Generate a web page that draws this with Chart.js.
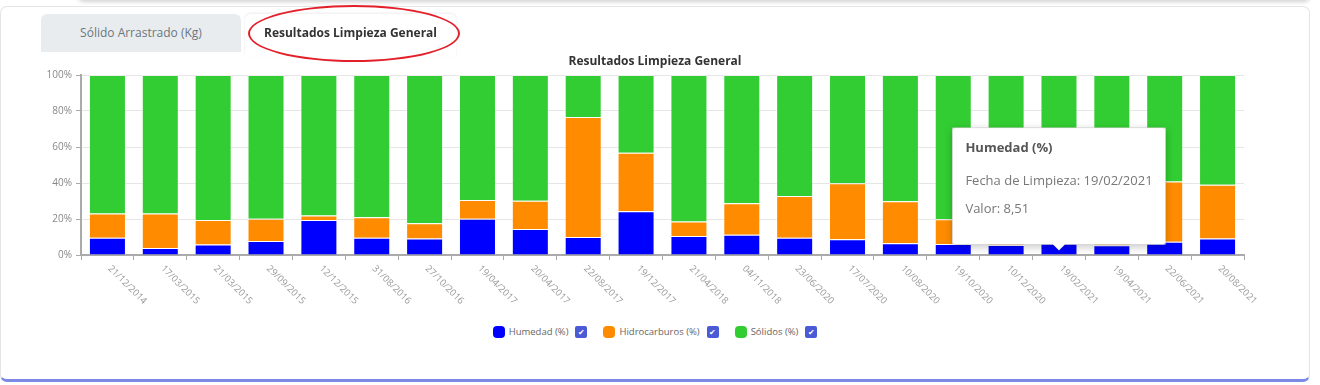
<html>
<head>
    <title>Resultados Limpieza General</title>
    <script src="https://cdn.jsdelivr.net/npm/chart.js"></script>
    <style>
        body {
            margin: 0;
            width: 1320px;
            height: 385px;
            background: #fff;
            font-family: 'Open Sans', sans-serif;
            overflow: hidden;
            position: relative;
        }
        .top-card {
            position: absolute;
            left: 78px;
            width: 1232px;
            top: -30px;
            height: 30px;
            background: #fff;
            border-radius: 6px;
            box-shadow: 0 2px 4px rgba(0, 0, 0, 0.18);
        }
        .card {
            position: absolute;
            left: 0;
            top: 6px;
            width: 1308px;
            height: 372px;
            background: #fff;
            border: 1px solid #e4e4e4;
            border-bottom: 3px solid #7c8ae6;
            border-radius: 7px;
            z-index: 0;
        }
        .tab {
            position: absolute;
            top: 14px;
            height: 38px;
            line-height: 38px;
            text-align: center;
            font-size: 12px;
            border-radius: 6px 6px 0 0;
            z-index: 2;
        }
        .tab.off {
            left: 41px;
            width: 200px;
            background: #e9ecee;
            color: #6b7780;
        }
        .tab.on {
            left: 245px;
            width: 211px;
            height: 43px;
            background: #fff;
            color: #333;
            font-weight: 700;
            box-shadow: 0 -1px 3px rgba(0, 0, 0, 0.08);
        }
        .circle {
            position: absolute;
            left: 248px;
            top: 5px;
            width: 208px;
            height: 53px;
            border: 2px solid #e3202a;
            border-radius: 50%;
            z-index: 3;
        }
        .chart-title {
            position: absolute;
            left: 455px;
            width: 400px;
            top: 52px;
            text-align: center;
            font-size: 12px;
            font-weight: 700;
            color: #333;
            z-index: 2;
        }
        .chart-box {
            position: absolute;
            left: 0;
            top: 50px;
            width: 1310px;
            height: 270px;
            z-index: 1;
        }
        #legend {
            position: absolute;
            left: 0;
            width: 1310px;
            top: 325px;
            display: flex;
            justify-content: center;
            font-size: 9.5px;
            color: #666;
            z-index: 1;
        }
        .item {
            display: flex;
            align-items: center;
            margin: 0 8px;
        }
        .swatch {
            width: 12px;
            height: 12px;
            border-radius: 4px;
            margin-right: 4px;
        }
        .check {
            width: 12px;
            height: 12px;
            border-radius: 2px;
            background: #4b5bd6;
            color: #fff;
            font-size: 8px;
            line-height: 12px;
            text-align: center;
            margin-left: 7px;
        }
    </style>
</head>

<body>
    <div class="top-card"></div>
    <div class="card"></div>
    <div class="tab off">Sólido Arrastrado (Kg)</div>
    <div class="tab on">Resultados Limpieza General</div>
    <div class="circle"></div>
    <div class="chart-title">Resultados Limpieza General</div>

    <div class="chart-box">
        <canvas id="barChart" width="1310" height="270"></canvas>
    </div>
    <div id="legend"></div>

    <script>
        var fechas = ["21/12/2014", "17/03/2015", "21/03/2015", "29/09/2015", "12/12/2015", "31/08/2016",
            "27/10/2016", "19/04/2017", "20/04/2017", "22/08/2017", "19/12/2017", "21/04/2018",
            "04/11/2018", "23/06/2020", "17/07/2020", "10/08/2020", "19/10/2020", "10/12/2020",
            "19/02/2021", "19/04/2021", "22/06/2021", "20/08/2021"];
        var humedad = [9.6, 3.9, 5.8, 7.8, 19.5, 9.6, 9.1, 20.2, 14.5, 10.0, 24.3, 10.6,
            11.3, 9.6, 8.7, 6.5, 6.1, 5.6, 8.51, 5.4, 7.4, 9.1];
        var hidrocarburos = [13.4, 19.1, 13.7, 12.4, 2.4, 11.4, 8.5, 10.4, 15.6, 66.6, 32.5, 8.0,
            17.5, 23.2, 31.2, 23.4, 13.8, 14.0, 12.0, 15.0, 33.4, 29.9];
        var solidos = [77.0, 77.0, 80.5, 79.8, 78.1, 79.0, 82.4, 69.4, 69.9, 23.4, 43.2, 81.4,
            71.2, 67.2, 60.1, 70.1, 80.1, 80.4, 79.49, 79.6, 59.2, 61.0];
        var yTicks = [0, 20, 40, 60, 80, 100];

        var series = [
            { label: "Humedad (%)", data: humedad, color: "#0000ff" },
            { label: "Hidrocarburos (%)", data: hidrocarburos, color: "#ff8c00" },
            { label: "Sólidos (%)", data: solidos, color: "#32cd32" }
        ];

        // etiquetas de fecha inclinadas hacia abajo a la derecha
        var dateLabels = {
            id: "dateLabels",
            afterDatasetsDraw: function (chart) {
                var ctx = chart.ctx;
                var xs = chart.scales.x;
                ctx.save();
                ctx.font = "9.5px 'Open Sans'";
                ctx.fillStyle = "#9a9a9a";
                ctx.textAlign = "left";
                ctx.textBaseline = "middle";
                xs.ticks.forEach(function (t, i) {
                    ctx.save();
                    ctx.translate(xs.getPixelForTick(i) + 2, xs.top + 12);
                    ctx.rotate(Math.PI / 4);
                    ctx.fillText(fechas[i], 0, 0);
                    ctx.restore();
                });
                ctx.restore();
            },
            // sombra suave bajo el tooltip
            beforeTooltipDraw: function (chart, args) {
                var tt = args.tooltip;
                if (!tt.opacity) return;
                var ctx = chart.ctx;
                ctx.save();
                ctx.shadowColor = "rgba(0,0,0,0.22)";
                ctx.shadowBlur = 8;
                ctx.shadowOffsetY = 2;
                ctx.fillStyle = "#fff";
                ctx.fillRect(tt.x, tt.y, tt.width, tt.height);
                ctx.restore();
            }
        };

        Chart.Tooltip.positioners.baseline = function (items) {
            if (!items.length) return false;
            var el = items[0].element;
            return { x: el.x, y: el.base - 4 };
        };

        var chart = new Chart(document.getElementById("barChart"), {
            type: "bar",
            data: {
                labels: fechas,
                datasets: series.map(function (s) {
                    return {
                        label: s.label,
                        data: s.data,
                        backgroundColor: s.color,
                        borderColor: "rgba(255,255,255,0.35)",
                        borderWidth: 1,
                        barPercentage: 0.7,
                        categoryPercentage: 1
                    };
                })
            },
            options: {
                responsive: false,
                animation: false,
                layout: { padding: { left: 0, right: 66, top: 25, bottom: 0 } },
                plugins: {
                    legend: { display: false },
                    title: { display: false },
                    tooltip: {
                        position: "baseline",
                        yAlign: "bottom",
                        xAlign: "center",
                        backgroundColor: "#fff",
                        borderColor: "rgba(0,0,0,0.12)",
                        borderWidth: 1,
                        cornerRadius: 3,
                        caretSize: 6,
                        caretPadding: 0,
                        displayColors: false,
                        titleColor: "#555",
                        titleFont: { family: "'Open Sans'", size: 13, weight: "bold" },
                        titleMarginBottom: 17,
                        bodyColor: "#777",
                        bodyFont: { family: "'Open Sans'", size: 13 },
                        bodySpacing: 13,
                        padding: { top: 13, bottom: 27, left: 13, right: 13 },
                        callbacks: {
                            title: function (items) { return items[0].dataset.label; },
                            label: function (item) {
                                return ["Fecha de Limpieza: " + item.label,
                                    "Valor: " + String(item.raw).replace(".", ",")];
                            }
                        }
                    }
                },
                scales: {
                    x: {
                        stacked: true,
                        afterFit: function (s) { s.height = 65; },
                        grid: { display: true, drawOnChartArea: false, tickLength: 5, color: "#aaa" },
                        border: { color: "#aaa", width: 2 },
                        ticks: { display: false }
                    },
                    y: {
                        stacked: true,
                        min: 0,
                        max: 100,
                        afterFit: function (s) { s.width = 81; },
                        afterBuildTicks: function (s) {
                            s.ticks = yTicks.map(function (v) { return { value: v }; });
                        },
                        grid: { color: "#e6e6e6", tickLength: 5, tickColor: "#aaa" },
                        border: { color: "#aaa", width: 2 },
                        ticks: {
                            color: "#888",
                            font: { family: "'Open Sans'", size: 10 },
                            padding: 4,
                            callback: function (v) { return v + "%"; }
                        }
                    }
                }
            },
            plugins: [dateLabels]
        });

        chart.tooltip.setActiveElements([{ datasetIndex: 0, index: fechas.indexOf("19/02/2021") }], { x: 0, y: 0 });
        chart.update();

        var legend = document.getElementById("legend");
        series.forEach(function (s) {
            var item = document.createElement("div");
            item.className = "item";
            item.innerHTML = '<span class="swatch" style="background:' + s.color + '"></span>' +
                '<span>' + s.label + '</span><span class="check">&#10004;</span>';
            legend.appendChild(item);
        });
    </script>
</body>
</html>
